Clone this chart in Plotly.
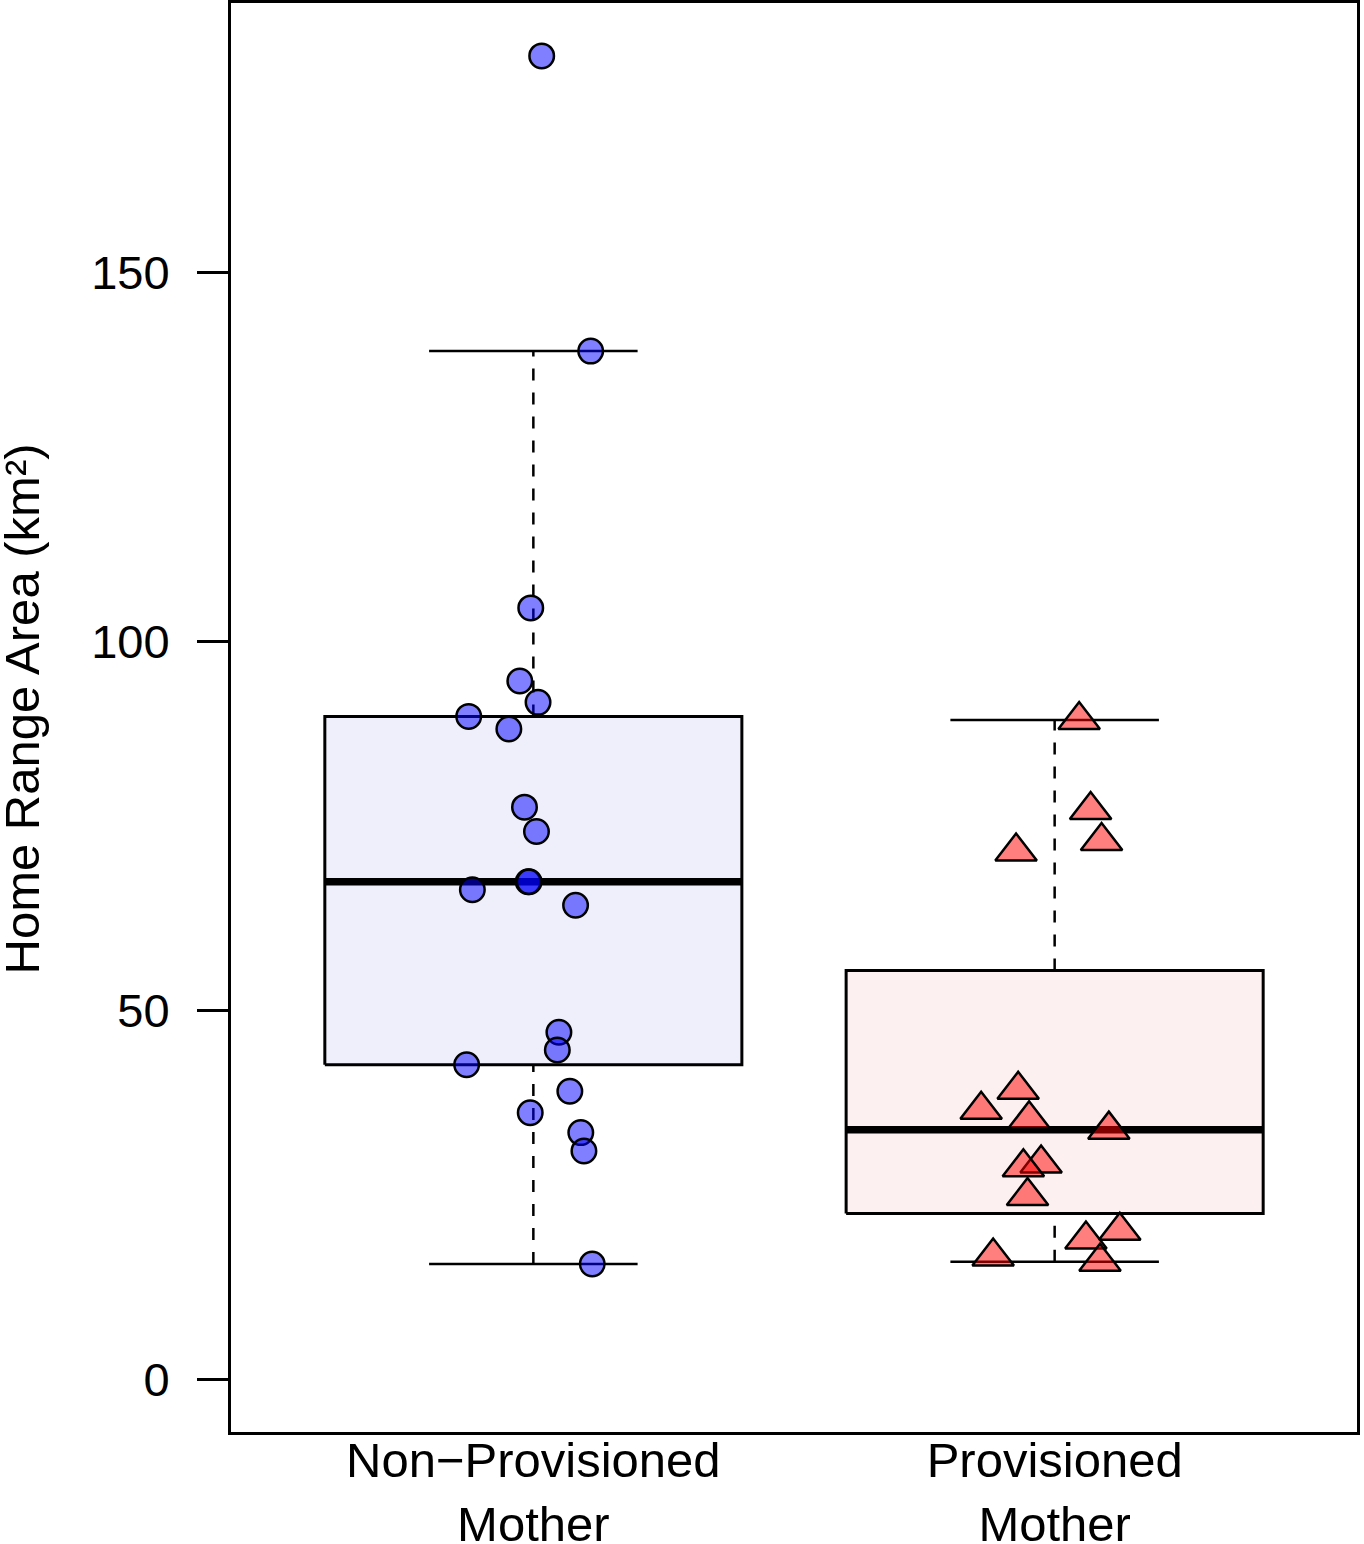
# coding=utf-8
import numpy as np
import plotly.graph_objects as go

# x axis groups
groups = ["Non\u2212Provisioned<br>Mother", "Provisioned<br>Mother"]

# home range area (km2) of each mother
non_prov_area = [179.3, 139.3, 104.5, 94.6, 91.7, 89.8, 88.1, 77.5, 74.2, 67.4,
                 67.4, 66.3, 64.2, 47.0, 44.6, 42.6, 39.0, 36.1, 33.4, 30.9, 15.6]
# horizontal jitter of each point around its group centre
non_prov_jitter = [0.016, 0.110, -0.005, -0.026, 0.009, -0.124, -0.047, -0.017, 0.006, -0.010,
                   -0.008, -0.117, 0.081, 0.049, 0.046, -0.128, 0.070, -0.006, 0.091, 0.097, 0.113]

prov_area = [89.3, 77.1, 72.9, 71.5, 39.2, 36.5, 35.2, 33.8, 29.2, 28.7,
             24.8, 20.1, 18.9, 16.6, 15.9]
prov_jitter = [0.047, 0.069, 0.090, -0.074, -0.070, -0.141, -0.049, 0.104, -0.026, -0.060,
               -0.052, 0.125, 0.060, -0.118, 0.087]

yticks = [0, 50, 100, 150]

FONT = "Liberation Sans, Arial, sans-serif"


def box_stats(values):
    """ Tukey hinges + 1.5 IQR whiskers, like R's boxplot """
    v = np.sort(np.asarray(values, dtype=float))
    n = len(v)
    n4 = np.floor((n + 3) / 2) / 2
    d = np.array([1, n4, (n + 1) / 2, n + 1 - n4, n]) - 1
    five = 0.5 * (v[np.floor(d).astype(int)] + v[np.ceil(d).astype(int)])
    q1, med, q3 = five[1], five[2], five[3]
    iqr = q3 - q1
    lo = v[v >= q1 - 1.5 * iqr].min()
    hi = v[v <= q3 + 1.5 * iqr].max()
    return q1, med, q3, lo, hi


def add_box(fig, pos, values, fill):
    q1, med, q3, lo, hi = box_stats(values)
    half = 0.4
    cap = 0.2
    # box
    fig.add_trace(go.Scatter(x=[pos - half, pos + half, pos + half, pos - half, pos - half],
                             y=[q1, q1, q3, q3, q1],
                             mode="lines", fill="toself", fillcolor=fill,
                             line=dict(color="black", width=3), hoverinfo="skip"))
    # whiskers
    fig.add_trace(go.Scatter(x=[pos, pos, None, pos, pos],
                             y=[q3, hi, None, lo, q1],
                             mode="lines", line=dict(color="black", width=2.5, dash="12px,12px"),
                             hoverinfo="skip"))
    # staples
    fig.add_trace(go.Scatter(x=[pos - cap, pos + cap, None, pos - cap, pos + cap],
                             y=[hi, hi, None, lo, lo],
                             mode="lines", line=dict(color="black", width=2.5), hoverinfo="skip"))
    # median
    fig.add_trace(go.Scatter(x=[pos - half, pos + half], y=[med, med],
                             mode="lines", line=dict(color="black", width=7.5), hoverinfo="skip"))


def main():
    fig = go.Figure()

    add_box(fig, 1, non_prov_area, "#EFEFFB")
    add_box(fig, 2, prov_area, "#FDF0F0")

    fig.add_trace(go.Scatter(x=[1 + j for j in non_prov_jitter], y=non_prov_area,
                             mode="markers",
                             marker=dict(symbol="circle", size=24.5, color="rgba(0,0,255,0.5)",
                                         line=dict(color="black", width=2.5))))
    fig.add_trace(go.Scatter(x=[2 + j for j in prov_jitter], y=prov_area,
                             mode="markers",
                             marker=dict(symbol="triangle-up", size=36, color="rgba(255,0,0,0.5)",
                                         line=dict(color="black", width=2.5))))

    fig.add_annotation(text="Home Range Area (km\u00b2)", textangle=-90,
                       xref="paper", yref="paper", x=-231 / 1126, y=0.5056,
                       xanchor="left", yanchor="middle", xshift=-7, showarrow=False,
                       font=dict(family=FONT, size=49, color="black"))

    fig.update_layout(
        width=1364, height=1544,
        margin=dict(l=231, r=7, t=3, b=112),
        paper_bgcolor="white", plot_bgcolor="white",
        showlegend=False,
        font=dict(family=FONT, color="black"),
        xaxis=dict(range=[0.42, 2.58], tickvals=[1, 2], ticktext=groups,
                   ticks="", showgrid=False, zeroline=False, automargin=False,
                   ticklabelstandoff=-17,
                   showline=True, mirror=True, linecolor="black", linewidth=3,
                   tickfont=dict(family=FONT, size=49, color="black")),
        yaxis=dict(range=[-7.17, 186.47], tickvals=yticks,
                   ticks="outside", ticklen=31, tickwidth=3, tickcolor="black",
                   ticklabelstandoff=18, automargin=False,
                   showgrid=False, zeroline=False,
                   showline=True, mirror=True, linecolor="black", linewidth=3,
                   tickfont=dict(family=FONT, size=47, color="black")),
    )

    # page margin off so the figure sits at the window's corner
    fig.write_html("out.html", config={"displayModeBar": False},
                   post_script="document.body.style.margin='0px';")


if __name__ == "__main__":
    main()
